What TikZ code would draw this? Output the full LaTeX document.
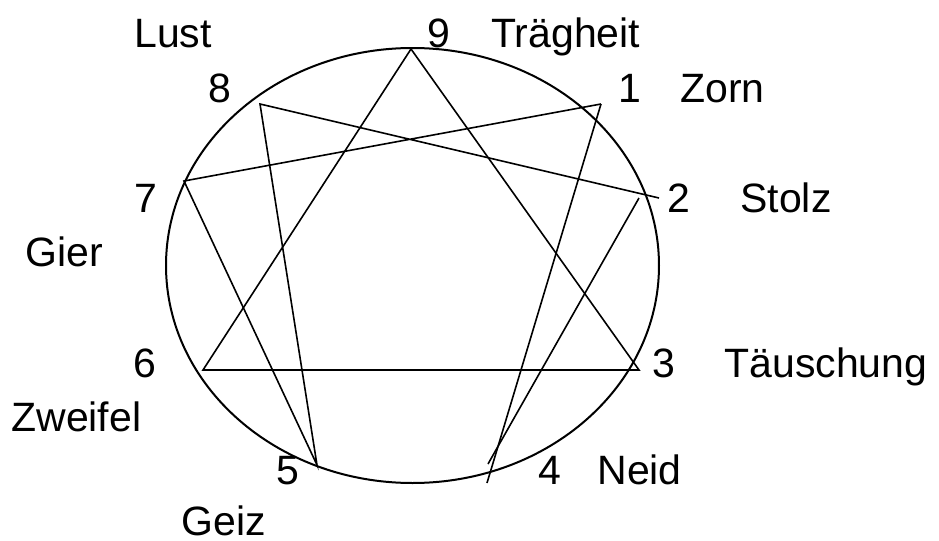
\documentclass[tikz,border=0pt]{standalone}
\usepackage{fontspec}
\setmainfont{Liberation Sans}
\tikzset{
  lbl/.style={inner sep=0pt, anchor=base west, font=\fontsize{20.5}{24}\selectfont},
  figline/.style={line width=0.8pt, draw=black},
  ring/.style={line width=1pt, draw=black},
}
\begin{document}
\begin{tikzpicture}[x=0.5pt, y=-0.5pt]
    \useasboundingbox (0,0) rectangle (939,541);
    \draw[ring] (412.5,265.5) ellipse [x radius=246.5, y radius=217.5];

    % points of the figure
    \coordinate (p9) at (411,49);
    \coordinate (p1) at (601,104);
    \coordinate (p2a) at (659,198);
    \coordinate (p2b) at (639,198);
    \coordinate (p3) at (639,370);
    \coordinate (p4a) at (487,483);
    \coordinate (p4b) at (488,464);
    \coordinate (p5) at (317,465);
    \coordinate (p6) at (203,370);
    \coordinate (p7) at (184,181);
    \coordinate (p8) at (260,104);

    \draw[figline] (p9) -- (p3) -- (p6) -- cycle;
    \draw[figline] (p1) -- (p4a);
    \draw[figline] (p4b) -- (p2b);
    \draw[figline] (p2a) -- (p8) -- (p5) -- (p7) -- (p1);

    % numbers and names
    \node[lbl] (lust) at (134,47) {Lust};
    \node[lbl] (d9) at (427,47) {9};
    \node[lbl] (traeg) at (491,47) {Trägheit};
    \node[lbl] (d8) at (208,102) {8};
    \node[lbl] (d1) at (618,102) {1};
    \node[lbl] (zorn) at (680,102) {Zorn};
    \node[lbl] (d7) at (134,212) {7};
    \node[lbl] (d2) at (667,212) {2};
    \node[lbl] (stolz) at (740,212) {Stolz};
    \node[lbl] (gier) at (25,266) {Gier};
    \node[lbl] (d6) at (133,377) {6};
    \node[lbl] (d3) at (652,377) {3};
    \node[lbl] (taeusch) at (724,377) {Täuschung};
    \node[lbl] (zweifel) at (11,431) {Zweifel};
    \node[lbl] (d5) at (276,484) {5};
    \node[lbl] (d4) at (538,484) {4};
    \node[lbl] (neid) at (597,484) {Neid};
    \node[lbl] (geiz) at (181,535) {Geiz};
\end{tikzpicture}
\end{document}
